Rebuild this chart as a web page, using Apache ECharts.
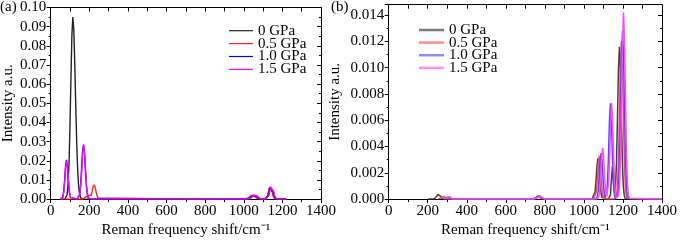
<!DOCTYPE html>
<html><head><meta charset="utf-8">
<script src="https://cdn.jsdelivr.net/npm/echarts@6/dist/echarts.min.js"></script>
<style>html,body{margin:0;padding:0;background:#fff}#c{width:680px;height:243px}</style>
</head><body><div id="c"></div>
<script>
const seriesNames = ['0 GPa', '0.5 GPa', '1.0 GPa', '1.5 GPa'];
const xTicks = [0, 200, 400, 600, 800, 1000, 1200, 1400];

// Panel (a)
const a_0GPa = [[50,0],[75,0],[80,0.0006],[85,0.0023],[90,0.0072],[95,0.0182],[100,0.0375],[105,0.0628],[110,0.0857],[115,0.095],[120,0.0882],[125,0.0707],[130,0.0488],[135,0.0291],[140,0.0150],[145,0.0066],[150,0.0025],[155,0.0008],[160,0.0002],[170,0],[750,0],[760,0.0001],[770,0.0002],[780,0.0001],[790,0],[1005,0],[1015,0.00014],[1025,0.0006],[1035,0.0015],[1040,0.00186],[1045,0.002],[1050,0.00186],[1055,0.0015],[1065,0.0006],[1075,0.00014],[1085,0],[1108,0],[1113,0.00015],[1118,0.0006],[1123,0.0017],[1128,0.0038],[1133,0.006],[1138,0.007],[1143,0.006],[1148,0.0038],[1153,0.0017],[1158,0.0006],[1163,0.00015],[1170,0],[1220,0]];
const a_05GPa = [[50,0],[165,0],[170,0.00017],[175,0.0005],[180,0.0011],[185,0.0017],[190,0.002],[195,0.0017],[200,0.00126],[205,0.00114],[210,0.00204],[215,0.0041],[220,0.00643],[225,0.0075],[230,0.00643],[235,0.00404],[240,0.00187],[245,0.00064],[250,0.00016],[255,0],[755,0],[765,0.0001],[775,0.0002],[785,0.0001],[795,0],[1010,0],[1020,0.00014],[1030,0.0006],[1040,0.0015],[1045,0.00186],[1050,0.002],[1055,0.00186],[1060,0.0015],[1070,0.0006],[1080,0.00014],[1090,0],[1110,0],[1115,0.00015],[1120,0.0006],[1125,0.0017],[1130,0.0039],[1135,0.0062],[1140,0.0072],[1145,0.0062],[1150,0.0039],[1155,0.0017],[1160,0.0006],[1165,0.00015],[1172,0],[1220,0]];
const a_10GPa = [[50,0],[57,0.00016],[62,0.0009],[67,0.0035],[72,0.0094],[77,0.0169],[82,0.0205],[87,0.0169],[92,0.0094],[97,0.0035],[102,0.0009],[107,0.00016],[112,0],[138,0],[140,0.0001],[145,0.0006],[150,0.0024],[155,0.0071],[160,0.0154],[165,0.0244],[170,0.0285],[175,0.0244],[180,0.0154],[185,0.0071],[190,0.0024],[195,0.0006],[200,0.0001],[210,0],[760,0],[770,0.0001],[780,0.0002],[790,0.0001],[800,0],[1015,0],[1025,0.00015],[1035,0.00067],[1045,0.00164],[1050,0.00204],[1055,0.0022],[1060,0.00204],[1065,0.00164],[1075,0.00067],[1085,0.00015],[1095,0],[1113,0],[1118,0.00015],[1123,0.0006],[1128,0.0018],[1133,0.0039],[1138,0.0063],[1143,0.0073],[1148,0.0063],[1153,0.0039],[1158,0.0018],[1163,0.0006],[1168,0.00015],[1175,0],[1220,0]];
const a_15GPa = [[50,0],[58,0.00015],[63,0.0009],[68,0.0034],[73,0.0092],[78,0.0165],[83,0.020],[88,0.0165],[93,0.0092],[98,0.0034],[103,0.0009],[108,0.00015],[113,0],[139,0],[141,0.0001],[146,0.0006],[151,0.0024],[156,0.007],[161,0.0151],[166,0.024],[171,0.028],[176,0.024],[181,0.0151],[186,0.007],[191,0.0024],[196,0.0006],[201,0.0001],[211,0],[763,0],[773,0.0001],[783,0.0002],[793,0.0001],[803,0],[1018,0],[1028,0.00015],[1038,0.00067],[1048,0.00164],[1053,0.00204],[1058,0.0022],[1063,0.00204],[1068,0.00164],[1078,0.00067],[1088,0.00015],[1098,0],[1115,0],[1120,0.00015],[1125,0.0006],[1130,0.0018],[1135,0.0039],[1140,0.0062],[1145,0.0072],[1150,0.0062],[1155,0.0039],[1160,0.0018],[1165,0.0006],[1170,0.00015],[1177,0],[1220,0]];

// Panel (b)
const b_0GPa = [[200,0],[231,0],[236,0.00002],[241,0.000076],[246,0.0002],[251,0.00036],[256,0.00044],[261,0.00036],[266,0.0002],[271,0.000076],[276,0.00002],[281,0],[735,0],[745,0.000034],[750,0.00008],[755,0.00015],[760,0.00022],[765,0.00025],[770,0.00022],[775,0.00015],[780,0.00008],[785,0.000034],[795,0],[1042,0],[1047,0.00002],[1052,0.00014],[1057,0.00053],[1062,0.00142],[1067,0.00255],[1072,0.0031],[1077,0.00255],[1082,0.00142],[1087,0.00053],[1092,0.00014],[1097,0.00002],[1102,0],[1126,0],[1131,0.00003],[1136,0.00034],[1141,0.0015],[1146,0.0025],[1151,0.0015],[1156,0.00055],[1162,0.00099],[1167,0.00289],[1172,0.00625],[1177,0.00994],[1182,0.0116],[1187,0.00994],[1192,0.00625],[1197,0.00289],[1202,0.00099],[1207,0.00024],[1212,0.00005],[1220,0],[1400,0]];
const b_05GPa = [[254,0],[259,0.000011],[264,0.000043],[269,0.000115],[274,0.00021],[279,0.00025],[284,0.00021],[289,0.000115],[294,0.000043],[299,0.000011],[305,0],[738,0],[748,0.000034],[753,0.00008],[758,0.00015],[763,0.00022],[768,0.00025],[773,0.00022],[778,0.00015],[783,0.00008],[788,0.000034],[798,0],[1049,0],[1054,0.000025],[1059,0.000145],[1064,0.00057],[1069,0.00151],[1074,0.00272],[1079,0.0033],[1084,0.00272],[1089,0.00151],[1094,0.00057],[1099,0.000145],[1104,0.000025],[1110,0],[1157,0],[1162,0.00005],[1167,0.00025],[1172,0.00102],[1177,0.00299],[1182,0.00647],[1187,0.01028],[1192,0.012],[1197,0.01028],[1202,0.00647],[1207,0.00299],[1212,0.00102],[1217,0.00025],[1222,0.00005],[1230,0],[1400,0]];
const b_10GPa = [[276,0],[281,0.000009],[286,0.000034],[291,0.000092],[296,0.000165],[301,0.0002],[306,0.000165],[311,0.000092],[316,0.000034],[321,0.000009],[327,0],[742,0],[752,0.000034],[757,0.00008],[762,0.00015],[767,0.00022],[772,0.00025],[777,0.00022],[782,0.00015],[787,0.00008],[792,0.000034],[802,0],[1058,0],[1063,0.000027],[1068,0.000154],[1073,0.0006],[1078,0.0016],[1083,0.00288],[1088,0.0035],[1093,0.00288],[1098,0.0016],[1103,0.0006],[1108,0.000154],[1111,0.00006],[1116,0.00032],[1121,0.00126],[1126,0.00334],[1131,0.006],[1136,0.0073],[1141,0.006],[1146,0.00334],[1151,0.00126],[1156,0.00032],[1161,0.000055],[1168,0.00005],[1173,0.00027],[1178,0.00109],[1183,0.00319],[1188,0.0069],[1193,0.01097],[1198,0.0128],[1203,0.01097],[1208,0.0069],[1213,0.00319],[1218,0.00109],[1223,0.00027],[1228,0.00005],[1235,0],[1400,0]];
const b_15GPa = [[283,0],[288,0.000009],[293,0.000034],[298,0.000092],[303,0.000165],[308,0.0002],[313,0.000165],[318,0.000092],[323,0.000034],[328,0.000009],[334,0],[745,0],[755,0.000034],[760,0.00008],[765,0.00015],[770,0.00022],[775,0.00025],[780,0.00022],[785,0.00015],[790,0.00008],[795,0.000034],[805,0],[1066,0],[1071,0.00003],[1076,0.00017],[1081,0.00067],[1086,0.00179],[1091,0.00321],[1096,0.0039],[1101,0.00321],[1106,0.00179],[1111,0.00067],[1117,0.0002],[1122,0.00032],[1127,0.00126],[1132,0.00334],[1137,0.006],[1142,0.0073],[1147,0.006],[1152,0.00334],[1157,0.00126],[1162,0.00032],[1167,0.000055],[1173,0.00006],[1178,0.0003],[1183,0.00121],[1188,0.00354],[1193,0.00765],[1198,0.01217],[1203,0.0142],[1208,0.01217],[1213,0.00765],[1218,0.00354],[1223,0.00121],[1228,0.0003],[1233,0.00006],[1240,0],[1400,0]];

const colorsA = ['#222222', '#ff2020', '#0000ff', '#ff00ff'];
const colorsB = ['#404040', '#ff4848', '#4848ff', '#ff48ff'];
const legendColorsB = ['#7a7a7a', '#ff8c8c', '#8c8cff', '#ff8cff'];

const fam = 'Liberation Serif';
const xName = 'Reman frequency shift/cm\u207B\u00B9';
const yName = 'Intensity a.u.';

function xAxes(g) {
  return [
    { gridIndex: g, type: 'value', position: 'bottom', min: xTicks[0], max: xTicks[xTicks.length - 1], interval: xTicks[1] - xTicks[0],
      axisLine: { onZero: false, lineStyle: { color: '#000', width: 1 } },
      axisTick: { inside: false, length: 4, lineStyle: { color: '#000' } },
      minorTick: { show: true, splitNumber: 2, length: 3, lineStyle: { color: '#000' } },
      splitLine: { show: false }, minorSplitLine: { show: false },
      axisLabel: { color: '#000', fontSize: 15, margin: 4, fontFamily: fam, formatter: v => String(v) },
      name: xName, nameLocation: 'middle', nameGap: 18,
      nameTextStyle: { color: '#000', fontSize: 15, fontFamily: fam } },
    { gridIndex: g, type: 'value', position: 'top', min: xTicks[0], max: xTicks[xTicks.length - 1], interval: xTicks[1] - xTicks[0],
      axisLine: { onZero: false, lineStyle: { color: '#000', width: 1 } },
      axisTick: { inside: true, length: 4, lineStyle: { color: '#000' } },
      minorTick: { show: true, splitNumber: 2, length: 4, lineStyle: { color: '#000' } },
      splitLine: { show: false }, axisLabel: { show: false } }
  ];
}
function yAxes(g, max, interval, dec, gap, hideAbove) {
  return [
    { gridIndex: g, type: 'value', position: 'left', min: 0, max: max, interval: interval,
      axisLine: { show: true, onZero: false, lineStyle: { color: '#000', width: 1 } },
      axisTick: { show: true, inside: false, length: 4, lineStyle: { color: '#000' } },
      minorTick: { show: true, splitNumber: 2, length: 2, lineStyle: { color: '#000' } },
      splitLine: { show: false },
      axisLabel: { color: '#000', fontSize: 15, margin: 4.5, fontFamily: fam,
        formatter: v => (v > hideAbove ? '' : v.toFixed(dec)) },
      name: yName, nameLocation: 'middle', nameGap: gap,
      nameTextStyle: { color: '#000', fontSize: 15, fontFamily: fam } },
    { gridIndex: g, type: 'value', position: 'right', min: 0, max: max, interval: interval,
      axisLine: { show: true, onZero: false, lineStyle: { color: '#000', width: 1 } },
      axisTick: { show: true, inside: true, length: 4, lineStyle: { color: '#000' } },
      minorTick: { show: true, splitNumber: 2, length: 2, lineStyle: { color: '#000' } },
      splitLine: { show: false }, axisLabel: { show: false } }
  ];
}

const dataA = [a_0GPa, a_05GPa, a_10GPa, a_15GPa];
const dataB = [b_0GPa, b_05GPa, b_10GPa, b_15GPa];
const series = [];
dataA.forEach((d, i) => series.push({ name: seriesNames[i], type: 'line', xAxisIndex: 0, yAxisIndex: 0, data: d,
  symbol: 'none', showSymbol: false, lineStyle: { color: colorsA[i], width: 1.4 }, itemStyle: { color: colorsA[i] } }));
dataB.forEach((d, i) => series.push({ name: seriesNames[i], type: 'line', xAxisIndex: 2, yAxisIndex: 2, data: d,
  symbol: 'none', showSymbol: false, lineStyle: { color: colorsB[i], width: 1.5 }, itemStyle: { color: colorsB[i] } }));

// Legend keys drawn as graphic elements (line sample + real text)
function legendGraphics(x0, x1, tx, ys, cols, lw) {
  const out = [];
  seriesNames.forEach((n, i) => {
    out.push({ type: 'line', shape: { x1: x0, y1: ys[i], x2: x1, y2: ys[i] }, style: { stroke: cols[i], lineWidth: lw } });
    out.push({ type: 'text', x: tx, y: ys[i], style: { text: n, font: '15px ' + fam, fill: '#000', verticalAlign: 'middle', align: 'left' } });
  });
  return out;
}

const option = {
  animation: false,
  textStyle: { fontFamily: fam },
  grid: [
    { left: 47.5, top: 5.7, width: 273.5, height: 204.3 },
    { left: 388.7, top: 4.7, width: 277, height: 203.6 }
  ],
  xAxis: [...xAxes(0), ...xAxes(1)],
  yAxis: [...yAxes(0, 0.10, 0.01, 2, 32, 1), ...yAxes(1, 0.0148, 0.002, 3, 46, 0.0145)],
  graphic: [
    { type: 'text', x: 0, y: 7, style: { text: '(a)', font: '15px ' + fam, fill: '#000', verticalAlign: 'middle' } },
    { type: 'text', x: 331, y: 7, style: { text: '(b)', font: '15px ' + fam, fill: '#000', verticalAlign: 'middle' } },
    ...legendGraphics(229, 253, 258, [30.7, 43.6, 56.5, 69.4], colorsA, 1.2),
    ...legendGraphics(419, 444, 449, [30, 42.6, 55.2, 67.8], legendColorsB, 2.5)
  ],
  series: series
};
const chart = echarts.init(document.getElementById('c'), null, { renderer: 'canvas' });
chart.setOption(option);
</script></body></html>
